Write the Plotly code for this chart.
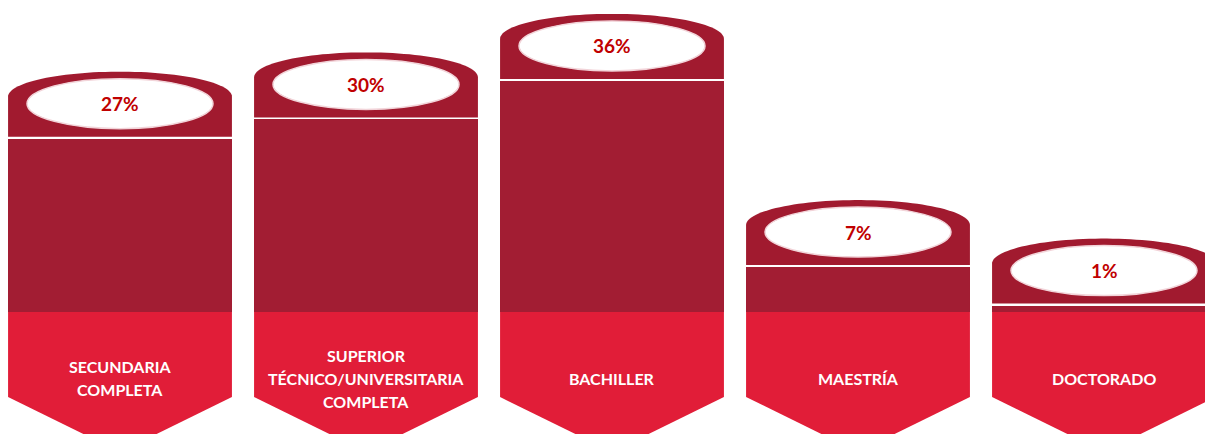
import numpy as np
import plotly.graph_objects as go

# ---- data ----
categories = ["SECUNDARIA<br>COMPLETA",
              "SUPERIOR<br>TÉCNICO/UNIVERSITARIA<br>COMPLETA",
              "BACHILLER",
              "MAESTRÍA",
              "DOCTORADO"]
values = [27, 30, 36, 7, 1]
value_labels = ["27%", "30%", "36%", "7%", "1%"]

# ---- style / geometry constants (pixels) ----
W, H = 1205, 434
PX_Y = 6.42          # pixels per percentage point
PX_X = 246           # pixels per category step
BASE_PX = 312        # pixel row of the zero line
BAR_W = 0.91
BODY = "#A21D33"
CAP = "#A11A2F"
CHEV = "#E11D38"
PCT = "#C00000"

x_idx = list(range(len(values)))
x0 = -120 / PX_X
xr = [x0, x0 + W / PX_X]
yr = [-(H - BASE_PX) / PX_Y, BASE_PX / PX_Y]

fig = go.Figure()
fig.add_trace(go.Bar(x=x_idx, y=values, width=BAR_W, marker=dict(color=BODY, line=dict(width=0)),
                     hoverinfo="skip", showlegend=False))

shapes = []
annotations = []
hw = BAR_W / 2
gap = 2 / PX_Y
side = 40 / PX_Y
rise = 25 / PX_Y
t = np.linspace(np.pi, 0, 60)
for i, v in zip(x_idx, values):
    # cap with rounded top
    yb = v + gap
    pts = [(i - hw, yb), (i - hw, yb + side)]
    pts += [(i + hw * np.cos(a), yb + side + rise * np.sin(a)) for a in t]
    pts += [(i + hw, yb)]
    path = "M " + " L ".join(f"{px:.5f},{py:.5f}" for px, py in pts) + " Z"
    shapes.append(dict(type="path", path=path, xref="x", yref="y", fillcolor=CAP,
                       line=dict(width=0), layer="above"))
    # white ellipse
    cy = yb + 33 / PX_Y
    shapes.append(dict(type="circle", xref="x", yref="y",
                       x0=i - 93 / PX_X, x1=i + 93 / PX_X,
                       y0=cy - 25 / PX_Y, y1=cy + 25 / PX_Y,
                       fillcolor="white", line=dict(color="#F2D4D9", width=1.5), layer="above"))
    annotations.append(dict(x=i, y=cy, xref="x", yref="y", text=f"<b>{value_labels[i]}</b>",
                            showarrow=False, font=dict(family="Lato", size=19, color=PCT)))
    # chevron label box
    ys = -85 / PX_Y
    ytip = -140 / PX_Y
    cpath = (f"M {i - hw},0 L {i + hw},0 L {i + hw},{ys} L {i},{ytip} L {i - hw},{ys} Z")
    shapes.append(dict(type="path", path=cpath, xref="x", yref="y", fillcolor=CHEV,
                       line=dict(width=0), layer="above"))
    lines = categories[i].split("<br>")
    n = len(lines)
    yc = -(378 - BASE_PX) / PX_Y
    for k, ln in enumerate(lines):
        annotations.append(dict(x=i, y=yc, xref="x", yref="y", text=f"<b>{ln}</b>",
                                yshift=((n - 1) / 2 - k) * 23, showarrow=False,
                                font=dict(family="Lato", size=16, color="white")))

fig.update_layout(
    width=W, height=H,
    margin=dict(l=0, r=0, t=0, b=0),
    paper_bgcolor="white", plot_bgcolor="white",
    xaxis=dict(range=xr, visible=False, fixedrange=True),
    yaxis=dict(range=yr, visible=False, fixedrange=True),
    shapes=shapes, annotations=annotations,
    bargap=0,
)
fig.write_html("out.html", config={"displayModeBar": False},
               post_script="document.body.style.margin='0';document.body.style.overflow='hidden';")
